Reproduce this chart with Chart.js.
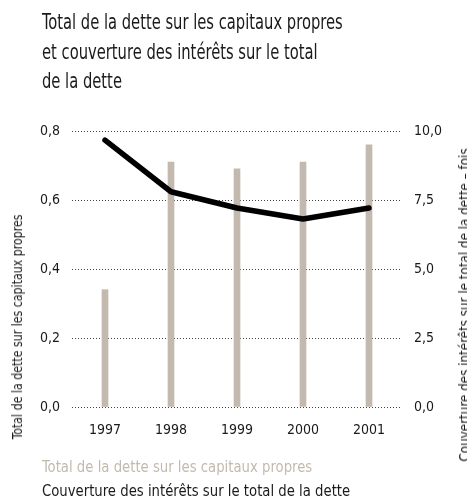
<!DOCTYPE html>
<html>
<head>
<meta charset="utf-8">
<script src="https://cdn.jsdelivr.net/npm/chart.js@4/dist/chart.umd.min.js"></script>
<style>
  html, body { margin: 0; padding: 0; background: #fff; }
  #wrap { position: relative; width: 467px; height: 502px; overflow: hidden;
    font-family: 'DejaVu Sans Condensed', 'DejaVu Sans', sans-serif; color: #1a1a1a; }
  #wrap canvas { position: absolute; left: 0; top: 0; }
  .title { position: absolute; left: 42px; top: 8px; font-size: 21px; line-height: 29.5px;
    white-space: nowrap; transform: scaleX(0.78); transform-origin: 0 0; }
  .leg { position: absolute; left: 42px; font-size: 16px; white-space: nowrap;
    transform: scaleX(0.92); transform-origin: 0 0; }
  .rot { position: absolute; white-space: nowrap; font-size: 14px; }
</style>
</head>
<body>
<div id="wrap">
  <canvas id="chart" width="467" height="502"></canvas>
  <div class="title">Total de la dette sur les capitaux propres<br>et couverture des intérêts sur le total<br>de la dette</div>
  <div class="rot" style="left:17px; top:327px; transform: translate(-50%, -50%) rotate(-90deg) scaleX(0.875);">Total de la dette sur les capitaux propres</div>
  <div class="rot" style="left:464px; top:305px; transform: translate(-50%, -50%) rotate(-90deg) scaleX(0.95);">Couverture des intérêts sur le total de la dette – fois</div>
  <div class="leg" style="top:457px; color:#c3b9ae;">Total de la dette sur les capitaux propres</div>
  <div class="leg" style="top:481px;">Couverture des intérêts sur le total de la dette</div>
</div>
<script>
'use strict'

var years = ['1997', '1998', '1999', '2000', '2001'];
var debtToEquity = [0.34, 0.71, 0.69, 0.71, 0.76];
var interestCover = [9.67, 7.8, 7.21, 6.81, 7.21];
var leftTicks = [0, 0.2, 0.4, 0.6, 0.8];
var rightTicks = [0, 2.5, 5, 7.5, 10];

Chart.defaults.font.family = "'DejaVu Sans Condensed', 'DejaVu Sans', sans-serif";
Chart.defaults.color = '#1a1a1a';

function comma(v) {
  return Number(v).toFixed(1).replace('.', ',');
}

var ctx = document.getElementById('chart');
var mychart = new Chart(ctx, {
  data: {
    labels: years,
    datasets: [{
      type: 'line',
      label: 'Couverture des intérêts sur le total de la dette',
      data: interestCover,
      yAxisID: 'y2',
      borderColor: '#000',
      borderWidth: 5.5,
      borderCapStyle: 'round',
      borderJoinStyle: 'round',
      pointRadius: 0,
      tension: 0,
      order: 0
    }, {
      type: 'bar',
      label: 'Total de la dette sur les capitaux propres',
      data: debtToEquity,
      yAxisID: 'y',
      backgroundColor: '#c3b9ae',
      barThickness: 6,
      order: 1
    }]
  },
  options: {
    responsive: false,
    animation: false,
    layout: { padding: { left: 0, right: 0, top: 131, bottom: 55 } },
    plugins: { legend: { display: false }, tooltip: { enabled: false } },
    scales: {
      x: {
        offset: true,
        grid: { display: false, drawTicks: false },
        border: { display: false },
        ticks: { font: { size: 14 }, padding: 15, color: '#1a1a1a' },
        afterFit: function (s) { s.height = 40; }
      },
      y: {
        position: 'left',
        min: 0,
        max: 0.8,
        afterBuildTicks: function (a) { a.ticks = leftTicks.map(function (v) { return { value: v }; }); },
        ticks: { font: { size: 14 }, padding: 12, callback: comma, color: '#1a1a1a' },
        grid: { color: '#444', lineWidth: 1, drawTicks: false },
        border: { display: false, dash: [1, 2] },
        afterFit: function (s) { s.width = 72; }
      },
      y2: {
        position: 'right',
        min: 0,
        max: 10,
        afterBuildTicks: function (a) { a.ticks = rightTicks.map(function (v) { return { value: v }; }); },
        ticks: { font: { size: 14 }, padding: 12, callback: comma, color: '#1a1a1a' },
        grid: { display: false, drawTicks: false },
        border: { display: false },
        afterFit: function (s) { s.width = 65; }
      }
    }
  }
});
</script>
</body>
</html>
